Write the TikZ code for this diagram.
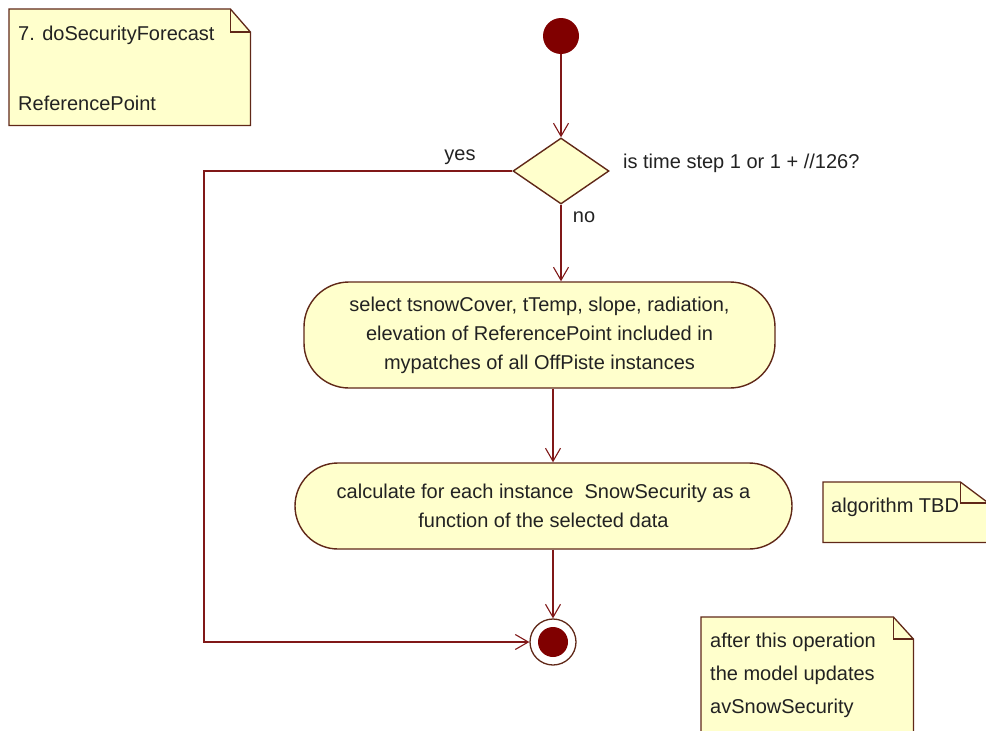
\documentclass[tikz,border=0pt]{standalone}
\usepackage{fontspec}
\setmainfont{Liberation Sans}
\usetikzlibrary{shapes.geometric,arrows.meta}
\definecolor{actfill}{RGB}{255,255,204}
\definecolor{edge}{RGB}{96,40,24}
\definecolor{flowc}{RGB}{128,24,24}
\definecolor{dotc}{RGB}{128,0,0}
\definecolor{ink}{RGB}{34,34,34}

\begin{document}
\begin{tikzpicture}[x=1pt,y=-1pt,
  every node/.style={font=\fontsize{20}{29}\selectfont, text=ink},
  action/.style={draw=edge, fill=actfill, line width=1.4pt, align=center, inner sep=0pt},
  decision/.style={diamond, draw=edge, fill=actfill, line width=1.4pt,
    minimum width=96pt, minimum height=66pt, inner sep=0pt},
  label/.style={inner sep=0pt},
  notetext/.style={inner sep=0pt, anchor=west, align=left, font=\fontsize{20}{33}\selectfont},
  notearea/.style={inner sep=0pt, anchor=north west},
  note/.style={draw=edge, fill=actfill, line width=1.3pt, line join=miter},
  flow/.style={draw=flowc, line width=1.3pt,
    -{Straight Barb[length=13pt,width=15pt,line width=1.1pt]}},
]
\useasboundingbox (0,0) rectangle (986,731);

% --- notes -------------------------------------------------------------
\node[notearea, minimum width=241pt, minimum height=116pt] (n1) at (9,9) {};
\path[note] (n1.north west) -- ([xshift=-20pt]n1.north east)
  -- ([yshift=-23pt]n1.north east) -- (n1.south east) -- (n1.south west) -- cycle;
\draw[note, fill=none] ([xshift=-20pt]n1.north east) |- ([yshift=-23pt]n1.north east);
\node[notetext] (n1a) at (18,35) {7. doSecurityForecast};
\node[notetext] (n1b) at (18,103) {ReferencePoint};

\node[notearea, minimum width=165pt, minimum height=60pt] (n2) at (823,482) {};
\path[note] (n2.north west) -- ([xshift=-28pt]n2.north east)
  -- ([yshift=-21pt]n2.north east) -- (n2.south east) -- (n2.south west) -- cycle;
\draw[note, fill=none] ([xshift=-28pt]n2.north east) |- ([yshift=-21pt]n2.north east);
\node[notetext] (n2a) at (831,507) {algorithm TBD};

\node[notearea, minimum width=212pt, minimum height=130pt] (n3) at (701,617) {};
\path[note] (n3.north west) -- ([xshift=-20pt]n3.north east)
  -- ([yshift=-22pt]n3.north east) -- (n3.south east) -- (n3.south west) -- cycle;
\draw[note, fill=none] ([xshift=-20pt]n3.north east) |- ([yshift=-22pt]n3.north east);
\node[notetext] (n3a) at (710,675) {after this operation\\the model updates\\avSnowSecurity};

% --- activity flow ---------------------------------------------------------
\node[circle, fill=dotc, minimum size=36pt, inner sep=0pt] (start) at (561,36) {};
\node[decision] (dec) at (561,171) {};
\node[label, anchor=west] (q) at (623,163) {is time step 1 or 1 + //126?};
\node[label] (yes) at (460,157) {yes};
\node[label] (no) at (584,217) {no};

\node[action, minimum width=471pt, minimum height=106pt, rounded corners=45pt] (a1)
  at (539.5,335)
  {select tsnowCover, tTemp, slope, radiation,\\
   elevation of ReferencePoint included in\\
   mypatches of all OffPiste instances};

\node[action, minimum width=497pt, minimum height=86pt, rounded corners=43pt] (a2)
  at (543.5,506)
  {calculate for each instance\ \ SnowSecurity as a\\
   function of the selected data};

\node[circle, draw=edge, fill=white, line width=1.3pt, minimum size=46pt, inner sep=0pt]
  (fin) at (553,642) {};
\node[circle, fill=dotc, minimum size=30pt, inner sep=0pt] (fincore) at (fin) {};

\coordinate (ycorner) at (204,171);

\draw[flow] (start) -- (dec);
\draw[flow] (dec) -- (dec.south |- a1.north);
\draw[flow] (a1.south -| fin) -- (a2.north -| fin);
\draw[flow] (a2.south -| fin) -- (fin);
\draw[flow] (dec.west) -- (ycorner) |- (fin.west);

\end{tikzpicture}
\end{document}
